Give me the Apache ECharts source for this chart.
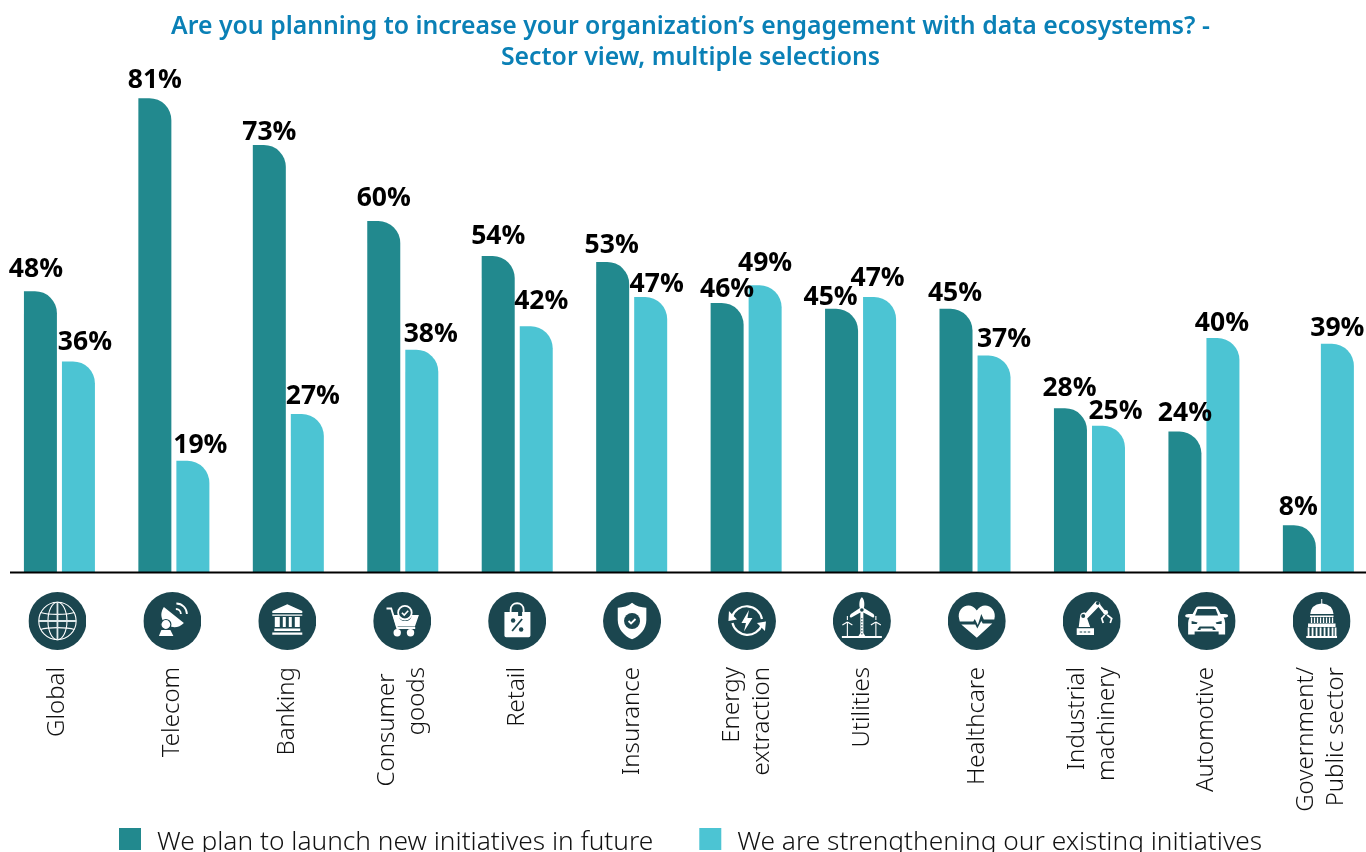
<!DOCTYPE html>
<html><head><meta charset="utf-8">
<style>html,body{margin:0;padding:0;background:#fff;overflow:hidden;width:1366px;height:852px}#c{width:1400px;height:852px}</style>
<script src="https://cdn.jsdelivr.net/npm/echarts@6/dist/echarts.min.js"></script>
</head><body><div id="c"></div>
<script>
const categories = ['Global','Telecom','Banking','Consumer \ngoods','Retail','Insurance','Energy\nextraction','Utilities','Healthcare','Industrial\nmachinery','Automotive','Government/\nPublic sector'];
const newInitiatives = [48,81,73,60,54,53,46,45,45,28,24,8];
const existingInitiatives = [36,19,27,38,42,47,49,47,37,25,40,39];
const seriesNames = ['We plan to launch new initiatives in future','We are strengthening our existing initiatives'];
const titleLines = 'Are you planning to increase your organization\u2019s engagement with data ecosystems? -\nSector view, multiple selections';
// hand placement of the value labels in the reference (dx, dy)
const newLabelNudge = [[-4.5,-9],[0,-5],[0,1],[0,-10],[0,-7],[-1,-3],[0,0],[-11,2],[-1,-2],[-1,-7],[0,-5],[-1,-5]];
const existingLabelNudge = [[6.5,-6],[7.5,-2],[5.5,-5],[9,-2],[5,-12],[6,0],[0,-9],[-2,-6],[10,-3],[7,-1],[-1,-2],[0,-2]];

const W='#fff', D='#1b464f';
const iconBodies = [
 `<g fill="none" stroke="${W}" stroke-width="1.1"><circle cx="29" cy="29" r="18.7"/><ellipse cx="29" cy="29" rx="9.5" ry="18.7"/><path d="M12 20.5C20 23 38 23 46 20.5M12 37.5C20 35 38 35 46 37.5"/><path stroke-width="1.8" stroke="#dfe9ea" d="M29 10.3V47.7M10.3 29H47.7"/></g>`,
 `<path fill="${W}" d="M20.5 15L40.5 31C35 37 26 36 21 31C17 26 17 20 20.5 15Z"/><circle cx="22.5" cy="32.5" r="5" fill="${W}" stroke="${D}" stroke-width="1.2"/><path fill="${W}" d="M15.5 44L18 38H27L30 44Z"/><path fill="none" stroke="${W}" stroke-width="1.8" d="M32.5 17a5 5 0 0 1 5 5M33 11.5a10.5 10.5 0 0 1 10.5 10.5"/>`,
 `<path fill="${W}" d="M29 12.3L44 19V21H14V19ZM14 22.5H44V23.8H14ZM16.5 25H21.5V35H16.5ZM24.5 25H27.5V35H24.5ZM30.5 25H33.5V35H30.5ZM36.5 25H41.5V35H36.5ZM16 36.5H42V39H16ZM14 40.5H44V42.8H14Z"/>`,
 `<path fill="none" stroke="${W}" stroke-width="1.8" d="M13.3 16.5H18L24 36H42"/><path fill="${W}" d="M19.5 23H25.5C26 27 28 29 32 29C36 29 38 27 38.5 23H45.7L41.7 34.5H23Z"/><circle cx="31.7" cy="20.7" r="6.8" fill="${D}" stroke="${W}" stroke-width="1.8"/><path fill="none" stroke="${W}" stroke-width="1.6" d="M28.7 20.7L31 23L35 18.7"/><circle cx="24" cy="40.8" r="3.7" fill="${W}"/><circle cx="37.3" cy="40.8" r="3.7" fill="${W}"/>`,
 `<path fill="none" stroke="${W}" stroke-width="1.8" d="M22.5 24V18C22.5 9 35.5 9 35.5 18V24"/><path fill="${W}" d="M16.3 20H30V24H34V20H42.3V43.5Q42.3 45.3 40.5 45.3H18Q16.3 45.3 16.3 43.5Z"/><path fill="none" stroke="${D}" stroke-width="1.8" d="M24 39L34 27"/><circle cx="25" cy="28.5" r="2.2" fill="${D}"/><circle cx="33" cy="37.5" r="2.2" fill="${D}"/>`,
 `<path fill="${W}" d="M29 10.7C33 14 38 15.5 43.3 15.7V28C43.3 37 37 44 29 47.3C21 44 14.7 37 14.7 28V15.7C20 15.5 25 14 29 10.7Z"/><circle cx="29" cy="29" r="8" fill="${D}"/><path fill="none" stroke="${W}" stroke-width="1.8" d="M25.5 29L28 31.5L32.5 27"/>`,
 `<g fill="none" stroke="${W}" stroke-width="2.2"><path d="M14 25A15.5 15.5 0 0 1 44 27"/><path d="M44 33A15.5 15.5 0 0 1 14.5 31"/></g><path fill="${W}" d="M11 19L19 27.5L10.5 29ZM47 39L39 31L48 29.5ZM31 18L23.5 31H28L26 39.5L34.5 26H29.5Z"/>`,
 `<path fill="${W}" d="M29 5.3C31.5 7 32 13 31 16L40.6 22C42 24 41.5 26 40 25.5L30.5 20.5V41L33 45H25L27.5 41V20.5L18.5 25.5C16.5 26 16.5 23.5 18 22L27 16C26 13 26.5 7 29 5.3Z"/><circle cx="29" cy="18" r="1.8" fill="${D}"/><path fill="none" stroke="${D}" stroke-width="1" stroke-dasharray="1.5 1.5" d="M29 26V44"/><path fill="none" stroke="${W}" stroke-width="1.1" d="M14.5 44V30M14.5 28L14.5 24M14.5 30L9.5 33M14.5 30L19.5 33M43 44V30M43 28V24M43 30L38 33M43 30L48 33"/><path fill="${W}" d="M9 44H49V46H9Z"/>`,
 `<path fill="${W}" d="M11.5 27.5C8 16 22 8 29 18.5C36 8 50 16 46.5 27.5H36L33.5 22L30 33L27 27L25.5 29.5H12ZM13.5 32.5H27.5L29.5 36.5L33.5 29L35 31.5H44.5L29 45.7Z"/>`,
 `<path fill="${W}" d="M14 36.3H31.3V43H14ZM16 35L17.5 23.5C18 21 21 20 23 21L33 9.5C35 9 38 10 37.7 13L24.5 26.5L27.5 35ZM37 12L43 19.5L41 21.5L35 14Z"/><circle cx="20.5" cy="24" r="2" fill="${D}"/><circle cx="35" cy="11.3" r="1.7" fill="${D}"/><circle cx="43" cy="20.5" r="2.4" fill="${W}"/><path fill="none" stroke="${W}" stroke-width="1.7" d="M42 23L39 26.5L40.5 31M44.5 23L49 26.5L47.5 31"/><path stroke="${D}" stroke-width="1.2" stroke-dasharray="2.5 1.5" d="M17 40H29"/>`,
 `<path fill="${W}" d="M15 22L18.5 15.5Q19.5 14.5 21 14.5H37Q38.5 14.5 39.5 15.5L43 22H47Q50.5 22 50.5 24Q50 25.5 46 25.5Q47.5 28 47.5 31V42.5H41V39.5H17V42.5H10.5V31Q10.5 28 12 25.5Q8 25.5 7.5 24Q7.5 22 11 22Z"/><path fill="${D}" d="M20 17H38L40.5 23.5H17.5ZM14 29L20 30.5L19 32H14ZM44 29L38 30.5L39 32H44ZM20 37L22 34.5H36L38 37V38H35V36.5H23V38H20Z"/>`,
 `<path fill="${W}" d="M28.7 7H29.7V11.5Q40 12.5 41 22H17.7Q18.5 12.5 28.7 11.5ZM17.5 23.5H41V25H17.5Z"/><path fill="none" stroke="${W}" stroke-width="1.3" d="M19 25.5V31M22 25.5V31M25 25.5V31M28 25.5V31M31 25.5V31M34 25.5V31M37 25.5V31M40 25.5V31"/><path fill="${W}" d="M15.5 31.5H43V35H15.5ZM13.7 44H44.5V46H13.7Z"/><path fill="none" stroke="${W}" stroke-width="1.8" d="M16 35.5V44M20 35.5V44M24 35.5V44M28 35.5V44M32 35.5V44M36 35.5V44M40 35.5V44M43 35.5V44"/>`
];
const iconSymbol = b => 'image://data:image/svg+xml;charset=utf-8,' + encodeURIComponent(
 `<svg xmlns="http://www.w3.org/2000/svg" width="58" height="58" viewBox="0 0 58 58"><circle cx="29" cy="29" r="29" fill="${D}"/>${b}</svg>`);

const barData = (vals, nudges) => vals.map((v,i)=>({value:v,label:{offset:nudges[i]}}));
const barSeries = (name, vals, nudges, color) => ({
  type:'bar', name, data:barData(vals,nudges), xAxisIndex:0, yAxisIndex:0,
  barWidth:33, barGap:'15.2%',
  itemStyle:{color, borderRadius:[0,22,0,0]},
  label:{show:true, position:'top', distance:0, formatter:'{c}%', color:'#000',
    fontFamily:'"Open Sans"', fontWeight:'bold', fontSize:26.5, lineHeight:26}
});

const chart = echarts.init(document.getElementById('c'), null, {renderer:'canvas'});
chart.setOption({
  animation:false,
  backgroundColor:'#fff',
  title:{text:titleLines, left:685.5, top:6.5, textAlign:'center',
    textStyle:{color:'#0a80b6', fontFamily:'"Noto Sans"', fontWeight:600, fontSize:24.8, lineHeight:31}},
  legend:{data:seriesNames, left:119, top:828, padding:0, itemWidth:22, itemHeight:30, itemGap:46,
    icon:'path://M0 0H22V22H0ZM0 30H0.01V30.01H0Z', selectedMode:false,
    textStyle:{color:'#111', fontFamily:'"Noto Sans"', fontWeight:300, fontSize:26.3, padding:[0,0,0,11]}},
  grid:[
    {left:2.2, top:45.5, width:1373.4, height:526.5},
    {left:-1, top:600, width:1380, height:42}
  ],
  xAxis:[
    {gridIndex:0, type:'category', data:categories, axisLine:{show:false}, axisTick:{show:false}, axisLabel:{show:false}},
    {gridIndex:1, type:'category', data:categories, axisLine:{show:false}, axisTick:{show:false},
      axisLabel:{show:true, interval:0, rotate:90, margin:25, color:'#111', fontFamily:'"Noto Sans"', fontWeight:300, fontSize:24, lineHeight:30}}
  ],
  yAxis:[
    {gridIndex:0, type:'value', min:0, max:90, show:false},
    {gridIndex:1, type:'value', min:0, max:1, show:false}
  ],
  graphic:[{type:'line', silent:true, z:10, shape:{x1:10,y1:572.5,x2:1366,y2:572.5}, style:{stroke:'#000',lineWidth:2}}],
  series:[
    barSeries(seriesNames[0], newInitiatives, newLabelNudge, '#22898e'),
    barSeries(seriesNames[1], existingInitiatives, existingLabelNudge, '#4cc4d3'),
    {type:'scatter', xAxisIndex:1, yAxisIndex:1, clip:false, silent:true, symbolSize:58, itemStyle:{opacity:1},
      data:categories.map((c,i)=>({value:[i,0.5], symbol:iconSymbol(iconBodies[i])}))}
  ]
});
</script></body></html>
